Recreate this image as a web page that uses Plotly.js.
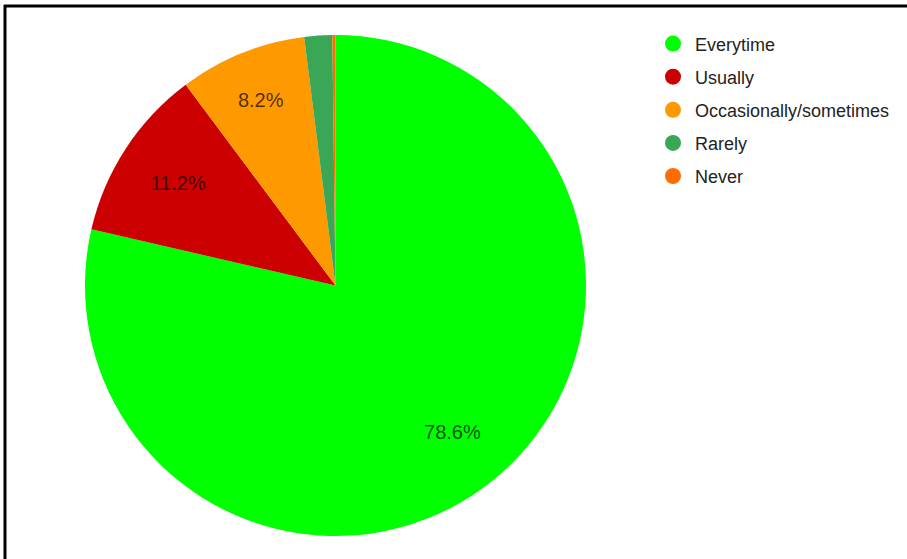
<!DOCTYPE html>
<html>
<head>
<meta charset="utf-8">
<script src="https://cdn.plot.ly/plotly-3.0.1.min.js"></script>
<style>
  html, body { margin: 0; padding: 0; background: #fff; }
  #chart { width: 907px; height: 559px; }
</style>
</head>
<body>
<div id="chart"></div>
<script>
const categories = ["Everytime", "Usually", "Occasionally/sometimes", "Rarely", "Never"];
const counts = [393, 56, 41, 9, 1];
const colors = ["#00ff00", "#cc0000", "#ff9900", "#3aa757", "#ff6d01"];
const labelShown = ["inside", "inside", "inside", "none", "none"];

const W = 907, H = 559;
const pieDomain = { x: [83 / W, 588 / W], y: [(H - 536) / H, (H - 35) / H] };

// Filled pie (no text)
const pie = {
  type: "pie",
  labels: categories,
  values: counts,
  sort: false,
  direction: "clockwise",
  rotation: 0,
  marker: { colors: colors, line: { width: 0 } },
  textinfo: "none",
  showlegend: false,
  hoverinfo: "label+percent",
  domain: pieDomain
};

// Transparent ring overlay carrying the percentage labels at ~3/4 radius
const labelRing = {
  type: "pie",
  labels: categories,
  values: counts,
  sort: false,
  direction: "clockwise",
  rotation: 0,
  hole: 0.5,
  marker: { colors: categories.map(() => "rgba(0,0,0,0)"), line: { width: 0 } },
  textinfo: "percent",
  textposition: labelShown,
  insidetextorientation: "horizontal",
  textfont: { family: "Liberation Sans, Arial, sans-serif", size: 20, color: "rgba(0,0,0,0.7)" },
  showlegend: false,
  hoverinfo: "skip",
  domain: pieDomain
};

const legendTraces = categories.map((c, i) => ({
  type: "scatter",
  mode: "markers",
  x: [null],
  y: [null],
  name: c,
  legendgroup: "g" + i,
  marker: { color: colors[i], size: 16, symbol: "circle" },
  showlegend: true,
  hoverinfo: "skip"
}));

const layout = {
  width: W,
  height: H,
  margin: { l: 0, r: 0, t: 0, b: 0 },
  paper_bgcolor: "#ffffff",
  plot_bgcolor: "rgba(0,0,0,0)",
  xaxis: { visible: false, domain: [0.95, 1] },
  yaxis: { visible: false, domain: [0.95, 1] },
  showlegend: true,
  legend: {
    x: 651 / W,
    y: 1 - 25.4 / H,
    xanchor: "left",
    yanchor: "top",
    itemwidth: 34,
    tracegroupgap: 6.7,
    traceorder: "grouped",
    font: { family: "Liberation Sans, Arial, sans-serif", size: 18, color: "#222222" },
    bgcolor: "rgba(0,0,0,0)"
  },
  shapes: [
    { type: "line", xref: "paper", yref: "paper", x0: 4 / W, x1: 1, y0: 1 - 6 / H, y1: 1 - 6 / H, line: { color: "#000", width: 3 } },
    { type: "line", xref: "paper", yref: "paper", x0: 5 / W, x1: 5 / W, y0: 0, y1: 1 - 5 / H, line: { color: "#000", width: 3 } }
  ]
};

Plotly.newPlot("chart", [pie, labelRing].concat(legendTraces), layout, { displayModeBar: false, staticPlot: true });
</script>
</body>
</html>
